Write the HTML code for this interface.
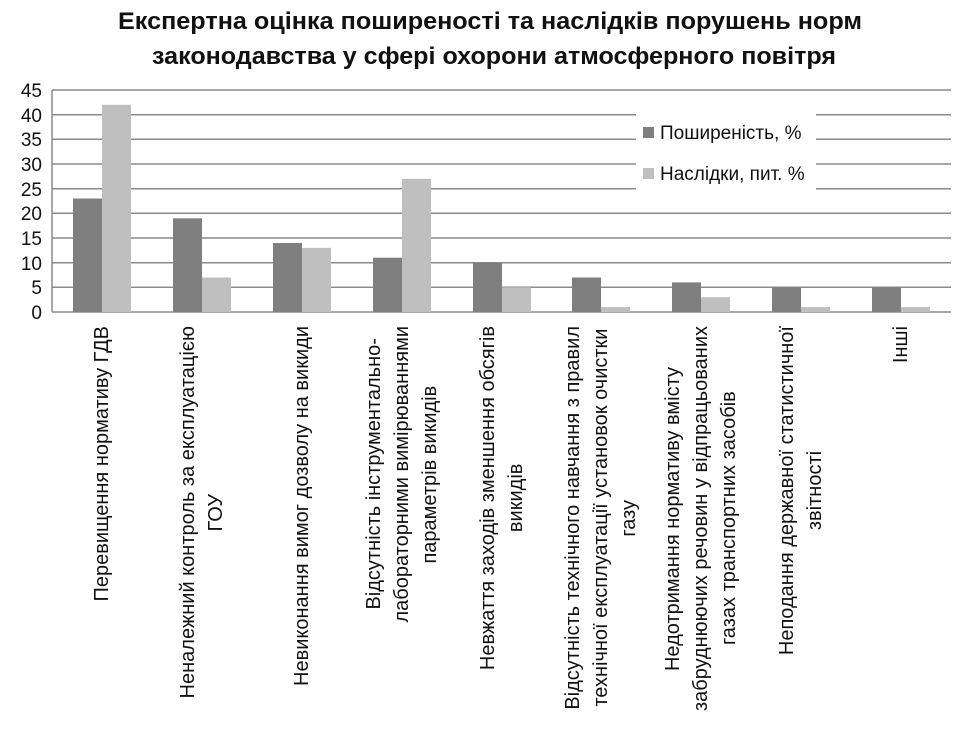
<!DOCTYPE html>
<html><head><meta charset="utf-8"><style>
body{margin:0;background:#fff;width:974px;height:743px;overflow:hidden;position:relative;font-family:"Liberation Sans","DejaVu Sans",sans-serif;}
svg{position:absolute;left:0;top:0}
.lab{position:absolute;top:326px;transform:translateX(-50%) rotate(180deg);writing-mode:vertical-rl;text-align:center;font-size:20px;line-height:28px;white-space:nowrap;color:#111;}
</style></head><body>
<svg width="974" height="743" xmlns="http://www.w3.org/2000/svg">
<text x="490" y="29" text-anchor="middle" font-size="24" font-weight="bold" textLength="744" lengthAdjust="spacingAndGlyphs" fill="#111">Експертна оцінка поширеності та наслідків порушень норм</text>
<text x="494" y="64" text-anchor="middle" font-size="24" font-weight="bold" textLength="684" lengthAdjust="spacingAndGlyphs" fill="#111">законодавства у сфері охорони атмосферного повітря</text>
<g stroke="#8a8a8a" stroke-width="1.5">
<line x1="52" x2="951" y1="90" y2="90"/>
<line x1="52" x2="951" y1="114.7" y2="114.7"/>
<line x1="52" x2="951" y1="139.3" y2="139.3"/>
<line x1="52" x2="951" y1="164" y2="164"/>
<line x1="52" x2="951" y1="188.7" y2="188.7"/>
<line x1="52" x2="951" y1="213.3" y2="213.3"/>
<line x1="52" x2="951" y1="238" y2="238"/>
<line x1="52" x2="951" y1="262.7" y2="262.7"/>
<line x1="52" x2="951" y1="287.3" y2="287.3"/>
<line x1="52" x2="951" y1="312" y2="312"/>
<line x1="52" x2="52" y1="90" y2="312"/>
</g>
<g font-size="19" fill="#111" text-anchor="end">
<text x="42" y="97">45</text><text x="42" y="122">40</text><text x="42" y="146">35</text><text x="42" y="171">30</text><text x="42" y="196">25</text><text x="42" y="220">20</text><text x="42" y="245">15</text><text x="42" y="270">10</text><text x="42" y="294">5</text><text x="42" y="319">0</text>
</g>
<g fill="#7f7f7f">
<rect x="73" y="198.5" width="29" height="113.5"/>
<rect x="173" y="218.3" width="29" height="93.7"/>
<rect x="273" y="243" width="29" height="69"/>
<rect x="373" y="257.7" width="29" height="54.3"/>
<rect x="473" y="262.7" width="29" height="49.3"/>
<rect x="572" y="277.5" width="29" height="34.5"/>
<rect x="672" y="282.4" width="29" height="29.6"/>
<rect x="772" y="287.3" width="29" height="24.7"/>
<rect x="872" y="287.3" width="29" height="24.7"/>
</g>
<g fill="#bfbfbf">
<rect x="102" y="104.8" width="29" height="207.2"/>
<rect x="202" y="277.5" width="29" height="34.5"/>
<rect x="302" y="247.9" width="29" height="64.1"/>
<rect x="402" y="178.8" width="29" height="133.2"/>
<rect x="502" y="287.3" width="29" height="24.7"/>
<rect x="601" y="307.1" width="29" height="4.9"/>
<rect x="701" y="297.2" width="29" height="14.8"/>
<rect x="801" y="307.1" width="29" height="4.9"/>
<rect x="901" y="307.1" width="29" height="4.9"/>
</g>
<rect x="636" y="110" width="180" height="85" fill="#fff"/>
<rect x="643" y="127" width="11" height="11" fill="#7f7f7f"/>
<text x="660" y="139" font-size="19" fill="#111">Поширеність, %</text>
<rect x="643" y="168" width="11" height="11" fill="#bfbfbf"/>
<text x="660" y="180" font-size="19" fill="#111">Наслідки, пит. %</text>
</svg>
<div class="lab" style="left:102px">Перевищення нормативу ГДВ</div>
<div class="lab" style="left:202px">Неналежний контроль за експлуатацією<br>ГОУ</div>
<div class="lab" style="left:302px">Невиконання вимог дозволу на викиди</div>
<div class="lab" style="left:402px">Відсутність інструментально-<br>лабораторними вимірюваннями<br>параметрів викидів</div>
<div class="lab" style="left:502px">Невжаття заходів зменшення обсягів<br>викидів</div>
<div class="lab" style="left:601px">Відсутність технічного навчання з правил<br>технічної експлуатації установок очистки<br>газу</div>
<div class="lab" style="left:701px">Недотримання нормативу вмісту<br>забруднюючих речовин у відпрацьованих<br>газах транспортних засобів</div>
<div class="lab" style="left:801px">Неподання державної статистичної<br>звітності</div>
<div class="lab" style="left:901px">Інші</div>
</body></html>
